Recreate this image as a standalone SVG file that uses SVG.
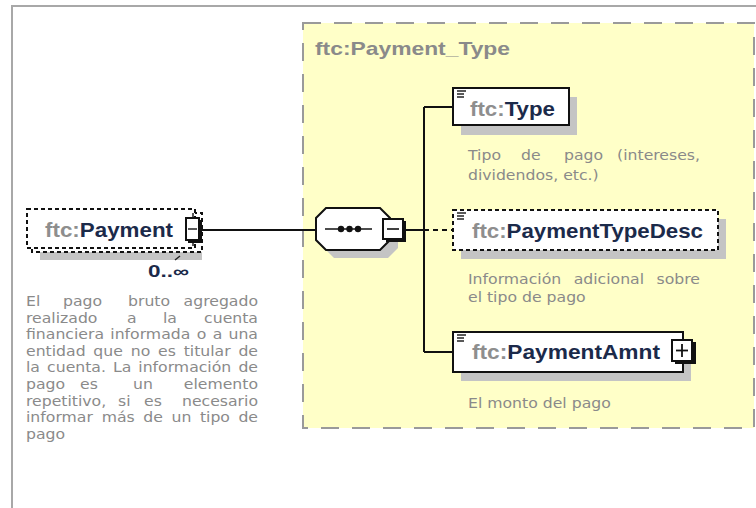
<svg xmlns="http://www.w3.org/2000/svg" width="756" height="508" viewBox="0 0 756 508">
<defs>
<style>
.frame{fill:none;stroke:#a8a8a8;stroke-width:2}
.group{fill:#ffffc8;stroke:#9a9a9a;stroke-width:2;stroke-dasharray:18 13}
.shadow{fill:#c4c4c4;stroke:none}
.box{fill:#fff;stroke:#111;stroke-width:2}
.dbox{fill:#fff;stroke:#111;stroke-width:2;stroke-dasharray:4 3}
.conn{fill:none;stroke:#111;stroke-width:2}
.dconn{fill:none;stroke:#111;stroke-width:2;stroke-dasharray:5 4}
.lbl{font-family:"Liberation Sans",Arial,sans-serif;font-weight:bold;font-size:21px}
.ns{fill:#8e8e8e}
.nm{fill:#1b2a4a}
.title{font-family:"Liberation Sans",Arial,sans-serif;font-weight:bold;font-size:19px;fill:#8a8a8a}
.desc{font-family:"DejaVu Sans","Open Sans",sans-serif;font-size:14px;fill:#8a8a8a}
.end{text-anchor:end}
.icon{stroke:#222;stroke-width:1.5}
.card{font-family:"Liberation Sans",Arial,sans-serif;font-weight:bold;font-size:16px;fill:#1b2a4a}
</style>
</defs>
<rect width="756" height="508" fill="#fff"/>
<path class="frame" d="M12,508 V6 H756"/>

<g id="payment-type-group">
<rect class="group" x="303" y="23" width="451" height="405"/>
<text class="title" x="315" y="55" textLength="195" lengthAdjust="spacingAndGlyphs">ftc:Payment_Type</text>
</g>

<g id="connectors">
<line class="conn" x1="200" y1="230" x2="316" y2="230"/>
<line class="conn" x1="405" y1="230" x2="424" y2="230"/>
<line class="conn" x1="424" y1="107" x2="424" y2="352"/>
<line class="conn" x1="424" y1="107" x2="453" y2="107"/>
<line class="dconn" x1="424" y1="230" x2="453" y2="230"/>
<line class="conn" x1="424" y1="352" x2="453" y2="352"/>
</g>

<g id="node-payment">
<rect class="shadow" x="40" y="250" width="162" height="10"/>
<rect class="dbox" x="32" y="213" width="170" height="39"/>
<rect class="dbox" x="27" y="209" width="168" height="39"/>
<text class="lbl" x="45" y="237" textLength="128" lengthAdjust="spacingAndGlyphs"><tspan class="ns">ftc:</tspan><tspan class="nm">Payment</tspan></text>
<line class="icon" x1="193" y1="213" x2="193" y2="218"/>
<line class="icon" x1="193" y1="241" x2="193" y2="246"/>
<rect x="188" y="220" width="14" height="23" fill="#111"/>
<rect x="186" y="218" width="13" height="22" fill="#fff" stroke="#111" stroke-width="2"/>
<line class="icon" x1="188" y1="229" x2="197" y2="229" stroke-width="1.6"/>
<line class="icon" x1="175" y1="260" x2="180" y2="256"/>
<text class="card" x="148" y="277" textLength="41" lengthAdjust="spacingAndGlyphs">0..∞</text>
</g>

<g id="node-sequence">
<polygon class="shadow" points="334,216 388,216 398,226 398,248 388,258 334,258 324,248 324,226"/>
<polygon fill="#fff" stroke="#111" stroke-width="2" points="326,208 380,208 390,218 390,240 380,250 326,250 316,240 316,218"/>
<line x1="325" y1="229" x2="372" y2="229" stroke="#111" stroke-width="1.6"/>
<circle cx="341" cy="229" r="3.2" fill="#111"/>
<circle cx="349.5" cy="229" r="3.2" fill="#111"/>
<circle cx="358" cy="229" r="3.2" fill="#111"/>
<rect x="386" y="221" width="20" height="21" fill="#111"/>
<rect x="383" y="219" width="20" height="20" fill="#fff" stroke="#111" stroke-width="2"/>
<line x1="387" y1="229" x2="399" y2="229" stroke="#111" stroke-width="1.6"/>
</g>

<g id="node-type">
<rect class="shadow" x="461" y="97" width="116" height="38"/>
<rect class="box" x="453" y="88" width="116" height="37"/>
<line class="icon" x1="457" y1="91" x2="466" y2="91"/>
<line class="icon" x1="457" y1="94" x2="464" y2="94"/>
<line class="icon" x1="457" y1="97" x2="464" y2="97"/>
<text class="lbl" x="470" y="116" textLength="85" lengthAdjust="spacingAndGlyphs"><tspan class="ns">ftc:</tspan><tspan class="nm">Type</tspan></text>
<g transform="scale(1.12 1)">
<text class="desc"><tspan x="417.86" y="160">Tipo</tspan><tspan x="465.18" y="160">de</tspan><tspan x="503.57" y="160">pago</tspan><tspan x="625" y="160" class="end">(intereses,</tspan></text>
<text class="desc" x="417.86" y="180">dividendos, etc.)</text>
</g>
</g>

<g id="node-paymenttypedesc">
<rect class="shadow" x="461" y="219" width="265" height="40"/>
<rect class="dbox" x="453" y="210" width="265" height="40"/>
<line class="icon" x1="457" y1="213" x2="466" y2="213"/>
<line class="icon" x1="457" y1="216" x2="464" y2="216"/>
<line class="icon" x1="457" y1="219" x2="464" y2="219"/>
<text class="lbl" x="472" y="238" textLength="231" lengthAdjust="spacingAndGlyphs"><tspan class="ns">ftc:</tspan><tspan class="nm">PaymentTypeDesc</tspan></text>
<g transform="scale(1.12 1)">
<text class="desc"><tspan x="417.86" y="284">Información</tspan><tspan x="512.23" y="284">adicional</tspan><tspan x="625" y="284" class="end">sobre</tspan></text>
<text class="desc" x="417.86" y="302">el tipo de pago</text>
</g>
</g>

<g id="node-paymentamnt">
<rect class="shadow" x="461" y="341" width="230" height="40"/>
<rect class="box" x="453" y="332" width="230" height="40"/>
<line class="icon" x1="457" y1="335" x2="466" y2="335"/>
<line class="icon" x1="457" y1="338" x2="464" y2="338"/>
<line class="icon" x1="457" y1="341" x2="464" y2="341"/>
<text class="lbl" x="472" y="359" textLength="188" lengthAdjust="spacingAndGlyphs"><tspan class="ns">ftc:</tspan><tspan class="nm">PaymentAmnt</tspan></text>
<rect x="675" y="342" width="21" height="22" fill="#111"/>
<rect x="672" y="340" width="20" height="21" fill="#fff" stroke="#111" stroke-width="2"/>
<line x1="676" y1="350.5" x2="688" y2="350.5" stroke="#111" stroke-width="1.8"/>
<line x1="682" y1="344" x2="682" y2="357" stroke="#111" stroke-width="1.8"/>
<g transform="scale(1.12 1)">
<text class="desc" x="417.86" y="408">El monto del pago</text>
</g>
</g>

<g id="payment-description" transform="scale(1.12 1)">
<text class="desc"><tspan x="23.21" y="306">El</tspan><tspan x="56.25" y="306">pago</tspan><tspan x="114.29" y="306">bruto</tspan><tspan x="230.36" y="306" class="end">agregado</tspan></text>
<text class="desc"><tspan x="23.21" y="322.6">realizado</tspan><tspan x="113.39" y="322.6">a</tspan><tspan x="145.54" y="322.6">la</tspan><tspan x="230.36" y="322.6" class="end">cuenta</tspan></text>
<text class="desc"><tspan x="23.21" y="339.2">financiera</tspan><tspan x="98.48" y="339.2">informada</tspan><tspan x="175.71" y="339.2">o</tspan><tspan x="189.91" y="339.2">a</tspan><tspan x="230.36" y="339.2" class="end">una</tspan></text>
<text class="desc"><tspan x="23.21" y="355.8">entidad</tspan><tspan x="83.3" y="355.8">que</tspan><tspan x="116.7" y="355.8">no</tspan><tspan x="141.07" y="355.8">es</tspan><tspan x="164.02" y="355.8">titular</tspan><tspan x="230.36" y="355.8" class="end">de</tspan></text>
<text class="desc"><tspan x="23.21" y="372.4">la</tspan><tspan x="42.05" y="372.4">cuenta.</tspan><tspan x="100.89" y="372.4">La</tspan><tspan x="123.48" y="372.4">información</tspan><tspan x="230.36" y="372.4" class="end">de</tspan></text>
<text class="desc"><tspan x="23.21" y="389">pago</tspan><tspan x="71.43" y="389">es</tspan><tspan x="118.75" y="389">un</tspan><tspan x="230.36" y="389" class="end">elemento</tspan></text>
<text class="desc"><tspan x="23.21" y="405.6">repetitivo,</tspan><tspan x="105.36" y="405.6">si</tspan><tspan x="128.57" y="405.6">es</tspan><tspan x="230.36" y="405.6" class="end">necesario</tspan></text>
<text class="desc"><tspan x="23.21" y="422.2">informar</tspan><tspan x="90.8" y="422.2">más</tspan><tspan x="127.95" y="422.2">de</tspan><tspan x="153.13" y="422.2">un</tspan><tspan x="178.48" y="422.2">tipo</tspan><tspan x="230.36" y="422.2" class="end">de</tspan></text>
<text class="desc" x="23.21" y="438.8">pago</text>
</g>
</svg>
